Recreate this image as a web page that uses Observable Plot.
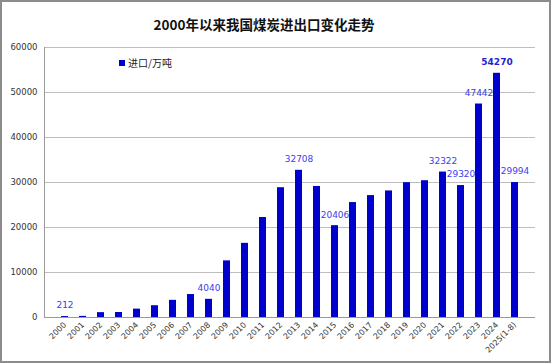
<!DOCTYPE html>
<html><head><meta charset="utf-8">
<script src="https://cdn.jsdelivr.net/npm/d3@7"></script>
<script src="https://cdn.jsdelivr.net/npm/@observablehq/plot@0.6"></script>
<style>
body{margin:0;background:#fff}
#wrap{position:relative;width:553px;height:363px;overflow:hidden;background:#fff}
#border{position:absolute;left:0;top:0;width:551px;height:363px;border:2px solid #8c8c8c;box-sizing:border-box;pointer-events:none}
#title{position:absolute;left:0;width:528px;top:14px;text-align:center;font:bold 13.5px "Noto Sans CJK SC";color:#111;line-height:20px}
#legend{position:absolute;left:119px;top:56px;font:10px "Noto Sans CJK SC";color:#222;line-height:14px;display:flex;align-items:center}
#legend span.sw{display:inline-block;width:6px;height:6px;background:#0000cc;margin-right:3px}
</style></head>
<body><div id="wrap"><div id="chart"></div><div id="title"></div><div id="legend"><span class="sw"></span><span id="legtext"></span></div><div id="border"></div></div>
<script>
const titleText = "2000年以来我国煤炭进出口变化走势";
const seriesName = "进口/万吨";
const years = ["2000","2001","2002","2003","2004","2005","2006","2007","2008","2009","2010","2011","2012","2013","2014","2015","2016","2017","2018","2019","2020","2021","2022","2023","2024","2025(1-8)"];
const imports = [212,250,1081,1110,1861,2617,3811,5102,4040,12583,16478,22220,28841,32708,29120,20406,25543,27090,28123,29967,30399,32322,29320,47442,54270,29994];
const labeledYears = ["2000","2008","2013","2015","2021","2022","2023","2025(1-8)"];
const boldYears = ["2024"];
const yTicks = [0,10000,20000,30000,40000,50000,60000];

document.getElementById("title").textContent = titleText;
document.getElementById("legtext").textContent = seriesName;

const rows = years.map((y,i)=>({year:y, value:imports[i]}));
const font = "DejaVu Sans";
const chart = Plot.plot({
  width: 553, height: 363,
  marginLeft: 44, marginRight: 18, marginTop: 47, marginBottom: 46,
  style: {fontFamily: font, background: "transparent"},
  x: {domain: years, padding: 0.6, label: null},
  y: {domain: [0, 60000], label: null},
  marks: [
    Plot.gridY(yTicks, {stroke: "#bdbdbd", strokeOpacity: 1}),
    Plot.frame({anchor: "left", stroke: "#9a9a9a"}),
    Plot.barY(rows, {x: "year", y: "value", fill: "#0000cc"}),
    Plot.ruleY([0], {stroke: "#9a9a9a"}),
    Plot.axisY({ticks: yTicks, tickSize: 0, tickPadding: 7, fontSize: 8.5, fill: "#333", tickFormat: d => String(d), label: null}),
    Plot.axisX({tickSize: 0, tickRotate: -45, fontSize: 8, fill: "#333", tickPadding: 6, label: null}),
    Plot.text(rows.filter(d => labeledYears.includes(d.year)), {x: "year", y: "value", text: d => String(d.value), dy: -11, fill: "#3c3cf0", fontSize: 9}),
    Plot.text(rows.filter(d => boldYears.includes(d.year)), {x: "year", y: "value", text: d => String(d.value), dy: -11, fill: "#1f1fd0", fontSize: 9, fontWeight: "bold"})
  ]
});
document.getElementById("chart").appendChild(chart);
</script>
</body></html>
